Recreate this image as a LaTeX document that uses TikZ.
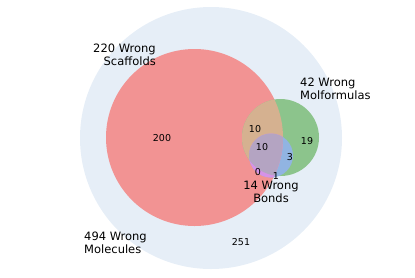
\documentclass[tikz,border=0pt]{standalone}
\usepackage{fontspec}
\setmainfont{DejaVu Sans}
\definecolor{outerc}{RGB}{230,238,247}
\definecolor{redc}{RGB}{242,147,147}
\definecolor{greenc}{RGB}{140,196,140}
\definecolor{rgc}{RGB}{213,177,144}
\definecolor{bluec}{RGB}{145,180,226}
\definecolor{rgbc}{RGB}{180,164,194}
\definecolor{rbc}{RGB}{214,146,232}
\begin{document}
\begin{tikzpicture}[x=1pt,y=-1pt,
  lab/.style={font=\fontsize{11.5}{13}\selectfont,inner sep=0pt},
  num/.style={font=\fontsize{9.5}{10}\selectfont,inner sep=0pt}]
\useasboundingbox (0,0) rectangle (415,277);
\def\Rc{(194.5,137.5) circle[radius=88.5]}
\def\Gc{(280.5,137.5) circle[radius=38.5]}
\def\Bc{(271,155.5) circle[radius=22]}
\fill[outerc] (211,138) circle[radius=131];
\fill[redc] \Rc;
\fill[greenc] \Gc;
\fill[bluec] \Bc;
\begin{scope}\clip \Rc; \fill[rgc] \Gc; \fill[rbc] \Bc; \end{scope}
\begin{scope}\clip \Rc; \clip \Gc; \fill[rgbc] \Bc; \end{scope}
\node[lab,align=right,anchor=east] (ls) at (156,54.5) {220 Wrong\\Scaffolds};
\node[lab,align=left,anchor=west] (lm) at (300,88.5) {42 Wrong\\Molformulas};
\node[lab,align=center] (lb) at (271,191.5) {14 Wrong\\Bonds};
\node[lab,align=left,anchor=west] (lw) at (84,242.5) {494 Wrong\\Molecules};
\node[num] (n200) at (162,138) {200};
\node[num] (n10a) at (255,129) {10};
\node[num] (n10b) at (262,147) {10};
\node[num] (n19) at (307,141) {19};
\node[num] (n3) at (290,157) {3};
\node[num] (n0) at (258,172) {0};
\node[num] (n1) at (276,176) {1};
\node[num] (n251) at (241,242) {251};
\end{tikzpicture}
\end{document}
